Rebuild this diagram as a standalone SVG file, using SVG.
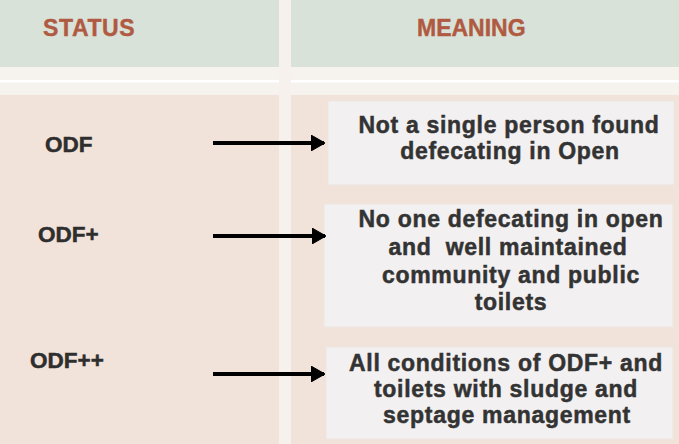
<svg xmlns="http://www.w3.org/2000/svg" width="679" height="444" viewBox="0 0 679 444">
  <defs>
    <style>
      .hdr { font-family: "Liberation Sans", Arial, sans-serif; font-weight: bold; font-size: 23px; fill: #b05a41; stroke: #b05a41; stroke-width: 0.4px; }
      .lbl { font-family: "Liberation Sans", Arial, sans-serif; font-weight: bold; font-size: 22.5px; fill: #2e2e2e; stroke: #2e2e2e; stroke-width: 0.5px; }
      .txt { font-family: "Liberation Sans", Arial, sans-serif; font-weight: bold; font-size: 23px; fill: #333333; stroke: #333333; stroke-width: 0.5px; letter-spacing: 0.7px; text-anchor: middle; }
      .box { fill: #f2f0f0; stroke: #ebe5e1; stroke-width: 1; }
      .arrow { stroke: #000000; stroke-width: 4; fill: none; marker-end: url(#head); }
    </style>
    <marker id="head" viewBox="0 0 14 16" refX="13" refY="8" markerWidth="14" markerHeight="16" markerUnits="userSpaceOnUse" orient="auto">
      <path d="M0,0 L14,8 L0,16 Z" fill="#000000" stroke="#000000" stroke-width="1" stroke-linejoin="round"/>
    </marker>
  </defs>

  <!-- background -->
  <rect x="0" y="0" width="679" height="444" fill="#f2e3da"/>
  <rect x="0" y="0" width="679" height="67" fill="#d8e2d9"/>
  <rect x="0" y="67" width="679" height="28" fill="#f6f3ef"/>
  <rect x="0" y="80" width="679" height="2.5" fill="#ffffff"/>
  <rect x="279" y="0" width="12" height="444" fill="#f6f1ec"/>

  <g id="header-status"><text class="hdr" x="43" y="36" letter-spacing="0.6">STATUS</text></g>
  <g id="header-meaning"><text class="hdr" x="417" y="36">MEANING</text></g>

  <g id="status-odf"><text class="lbl" x="45" y="152">ODF</text></g>
  <g id="status-odfp"><text class="lbl" x="38" y="242">ODF+</text></g>
  <g id="status-odfpp"><text class="lbl" x="30" y="368">ODF++</text></g>

  <g id="meaning-odf">
    <rect class="box" x="328" y="101" width="346" height="84"/>
    <text class="txt" x="509" y="133">Not a single person found</text>
    <text class="txt" x="510" y="159">defecating in Open</text>
  </g>

  <g id="meaning-odfp">
    <rect class="box" x="324" y="204" width="349" height="123"/>
    <text class="txt" x="511" y="227">No one defecating in open</text>
    <text class="txt" x="508" y="255" xml:space="preserve">and  well maintained</text>
    <text class="txt" x="511" y="283">community and public</text>
    <text class="txt" x="511" y="310">toilets</text>
  </g>

  <g id="meaning-odfpp">
    <rect class="box" x="326" y="347" width="347" height="92"/>
    <text class="txt" x="506" y="371">All conditions of ODF+ and</text>
    <text class="txt" x="506" y="397">toilets with sludge and</text>
    <text class="txt" x="507" y="423">septage management</text>
  </g>

  <g id="connectors">
    <line class="arrow" x1="213" y1="143" x2="324" y2="143"/>
    <line class="arrow" x1="213" y1="236" x2="325" y2="236"/>
    <line class="arrow" x1="213" y1="374" x2="324" y2="374"/>
  </g>
</svg>
